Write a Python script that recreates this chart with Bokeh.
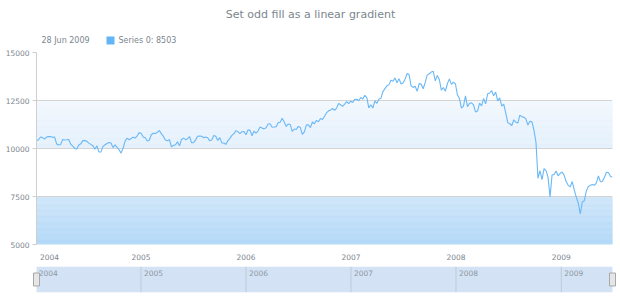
import numpy as np
import pandas as pd
from bokeh.plotting import figure
from bokeh.models import Range1d, FixedTicker, DatetimeTickFormatter, ColumnDataSource
from bokeh.core.properties import value
from bokeh.layouts import column
from bokeh.embed import file_html
from bokeh.resources import INLINE

# ---------------- data ----------------
title_text = "Set odd fill as a linear gradient"
series_name = "Series 0"
first_week = "2004-01-04"
last_week = "2009-06-28"

values_2004 = [10409, 10458, 10600, 10568, 10488, 10593, 10628, 10620, 10584, 10596,
               10240, 10186, 10213, 10470, 10442, 10452, 10472, 10226, 10118, 10013,
               9967, 10188, 10242, 10410, 10416, 10371, 10282, 10213, 10140, 9963,
               10140, 9815, 9825, 10110, 10195, 10260, 10314, 10284, 10047, 10193,
               10055, 9933, 9758, 10027, 10387, 10540, 10456, 10522, 10592, 10543,
               10661, 10828]
values_2005 = [10783, 10603, 10558, 10393, 10427, 10716, 10796, 10785, 10841, 10940,
               10774, 10629, 10442, 10404, 10461, 10088, 10157, 10193, 10346, 10140,
               10471, 10542, 10460, 10513, 10623, 10297, 10303, 10449, 10640, 10651,
               10641, 10558, 10600, 10559, 10397, 10447, 10679, 10641, 10420, 10569,
               10292, 10287, 10215, 10402, 10530, 10686, 10766, 10931, 10877, 10778,
               10875, 10883]
values_2006 = [10718, 10959, 10960, 10667, 10908, 10794, 10920, 11116, 11062, 11022,
               11077, 11279, 11280, 11109, 11120, 11138, 11347, 11367, 11578, 11380,
               11144, 11278, 11248, 10891, 11015, 10989, 11150, 11091, 10739, 10868,
               11219, 11240, 11089, 11381, 11284, 11464, 11392, 11560, 11508, 11679,
               11850, 11960, 12002, 12090, 11986, 12108, 12342, 12280, 12194, 12307,
               12445, 12343, 12463]
values_2007 = [12398, 12556, 12565, 12487, 12653, 12581, 12768, 12647, 12114, 12276,
               12110, 12481, 12354, 12561, 12612, 12962, 13120, 13264, 13327, 13556,
               13507, 13668, 13424, 13639, 13360, 13409, 13611, 13907, 13851, 13266,
               13182, 13239, 12980, 13379, 13358, 13113, 13442, 13821, 13896, 13980,
               14020, 13522, 13807, 13595, 13043, 13177, 12981, 13372, 13625, 13340,
               13451, 13365]
values_2008 = [12800, 12606, 12099, 12207, 12743, 12182, 12348, 12381, 12266, 11894,
               11951, 12361, 12216, 12609, 12325, 12849, 12891, 13010, 12745, 12940,
               12480, 12638, 12210, 12307, 11843, 11347, 11289, 11200, 11496, 11370,
               11326, 11734, 11659, 11628, 11543, 11220, 11421, 11388, 10960, 10325,
               8451, 8852, 8378, 8950, 8843, 8497, 7480, 8629, 8635, 8829,
               8579, 8700]
values_2009 = [8780, 8600, 8280, 8080, 8000, 8280, 7850, 7470, 7160, 6590,
               7220, 7280, 7780, 8020, 8080, 8130, 8080, 8210, 8570, 8270,
               8280, 8500, 8760, 8750, 8540, 8503]

values = values_2004 + values_2005 + values_2006 + values_2007 + values_2008 + values_2009
dates = pd.date_range(first_week, last_week, freq="W-SUN")

year_ticks = [2004, 2005, 2006, 2007, 2008, 2009]
y_ticks = [5000, 7500, 10000, 12500, 15000]
odd_bands = [(5000, 7500), (10000, 12500)]
band_gradients = [("#b2d8f7", "#d0e6fa"), ("#e3f0fc", "#f3f8fe")]  # (bottom, top)

# ---------------- style / layout ----------------
W = 620
FL, FR = 36, 8
HEAD_H = 47
FT, FB = 5, 17
H1 = FT + 193 + FB
FONT = "DejaVu Sans"
GREY = "#7c868e"
LINE_BLUE = "#6ab8f6"


def ms(ts):
    return pd.Timestamp(ts).value / 1e6


x0, x1 = ms(dates[0]), ms(dates[-1])
frame_w = W - FL - FR
ms_per_px = (x1 - x0) / frame_w
y_lo, y_hi = y_ticks[0], y_ticks[-1]

# ---------- header (title + legend), pixel-unit ranges ----------
head = figure(width=W, height=HEAD_H, output_backend="svg", toolbar_location=None,
              x_range=Range1d(FL, W - FR), y_range=Range1d(0, HEAD_H),
              min_border_left=FL, min_border_right=FR, min_border_top=0, min_border_bottom=0,
              x_axis_location=None, y_axis_location=None)
head.outline_line_color = None
head.grid.visible = False
head.text(x=[310], y=[HEAD_H - 14], text=[title_text], text_align="center",
          text_baseline="middle", text_font=value(FONT), text_font_size="11px",
          text_color=GREY)
legend_date = dates[-1].strftime("%d %b %Y")
head.text(x=[41, 118], y=[HEAD_H - 40] * 2,
          text=[legend_date, f"{series_name}: {values[-1]}"],
          text_align="left", text_baseline="middle", text_font=value(FONT),
          text_font_size="8px", text_color=GREY)
head.scatter(x=[110], y=[HEAD_H - 40], marker="square", size=8,
             fill_color="#64b5f6", line_color=None)

# ---------- main chart ----------
p = figure(width=W, height=H1, x_axis_type="datetime", output_backend="svg",
           toolbar_location=None, x_range=Range1d(x0, x1), y_range=Range1d(y_lo, y_hi),
           min_border_left=FL, min_border_right=FR, min_border_top=FT, min_border_bottom=FB)
p.outline_line_color = None
p.background_fill_color = "white"
p.border_fill_color = "white"


def hex2rgb(h):
    h = h.lstrip("#")
    return np.array([int(h[i:i + 2], 16) for i in (0, 2, 4)], dtype=float)


N = 40
bl, br, bb, bt, bc = [], [], [], [], []
for (lo, hi), (cb, ct) in zip(odd_bands, band_gradients):
    edges = np.linspace(lo, hi, N + 1)
    c0, c1 = hex2rgb(cb), hex2rgb(ct)
    for i in range(N):
        t = (i + 0.5) / N
        c = c0 + (c1 - c0) * t
        bl.append(x0)
        br.append(x1)
        bb.append(edges[i])
        bt.append(edges[i + 1])
        bc.append("#%02x%02x%02x" % tuple(int(round(v)) for v in c))
band_src = ColumnDataSource(dict(left=bl, right=br, bottom=bb, top=bt, color=bc))
p.quad(left="left", right="right", bottom="bottom", top="top", source=band_src,
       fill_color="color", line_color="color", line_width=0.6, level="image")

p.xgrid.visible = False
p.ygrid.ticker = FixedTicker(ticks=y_ticks)
p.ygrid.grid_line_color = "#d3d3d3"
p.ygrid.grid_line_width = 1

p.line(dates, values, line_color=LINE_BLUE, line_width=1.1)

p.yaxis.ticker = FixedTicker(ticks=y_ticks)
p.yaxis.axis_line_color = "#cfcfcf"
p.yaxis.major_tick_line_color = "#cfcfcf"
p.yaxis.major_tick_out = 4
p.yaxis.major_tick_in = 0
p.yaxis.minor_tick_line_color = None
p.yaxis.major_label_text_font = FONT
p.yaxis.major_label_text_font_size = "7.5px"
p.yaxis.major_label_text_color = GREY
p.yaxis.major_label_standoff = 3

# year ticks; a year start that falls before the data is clamped inside so its label fits
year_ms = [ms(f"{y}-01-01") for y in year_ticks]
x_tick_pos = [max(t, x0 + 13 * ms_per_px) for t in year_ms]
p.xaxis.ticker = FixedTicker(ticks=x_tick_pos)
p.xaxis.formatter = DatetimeTickFormatter(years="%Y", months="%Y", days="%Y", hours="%Y")
p.xaxis.axis_line_color = None
p.xaxis.major_tick_line_color = None
p.xaxis.minor_tick_line_color = None
p.xaxis.major_label_text_font = FONT
p.xaxis.major_label_text_font_size = "7.5px"
p.xaxis.major_label_text_color = GREY
p.xaxis.major_label_standoff = 3

# ---------- scroller ----------
SL, SR = 30, 2
H2 = 38
pad = (FL - SL) * ms_per_px
p2 = figure(width=W, height=H2, x_axis_type="datetime", output_backend="svg",
            toolbar_location=None, x_range=Range1d(x0 - pad, x1 + pad), y_range=Range1d(0, 1),
            min_border_left=SL, min_border_right=SR, min_border_top=4, min_border_bottom=8,
            x_axis_location=None, y_axis_location=None)
p2.outline_line_color = None
p2.grid.visible = False
p2.quad(left=[x0], right=[x1], bottom=[0], top=[1], fill_color="#d3e3f5", line_color=None)
inner_years = [t for t in year_ms if t > x0]
p2.segment(x0=inner_years, y0=[0] * len(inner_years), x1=inner_years, y1=[1] * len(inner_years),
           line_color="#bfcad6", line_width=1)
p2.text(x=year_ms, y=[1] * len(year_ms), text=[str(y) for y in year_ticks],
        x_offset=3, y_offset=3, text_baseline="top", text_align="left",
        text_font_size="7.5px", text_color="#8e979f", text_font=value(FONT))
p2.rect(x=[x0, x1], y=[0.5, 0.5], width=6, height=13, width_units="screen",
        height_units="screen", fill_color="#e6e6e6", line_color="#a8a8a8", line_width=1)

layout = column(head, p, column(p2), spacing=0)
open("out.html", "w").write(file_html(layout, INLINE))
